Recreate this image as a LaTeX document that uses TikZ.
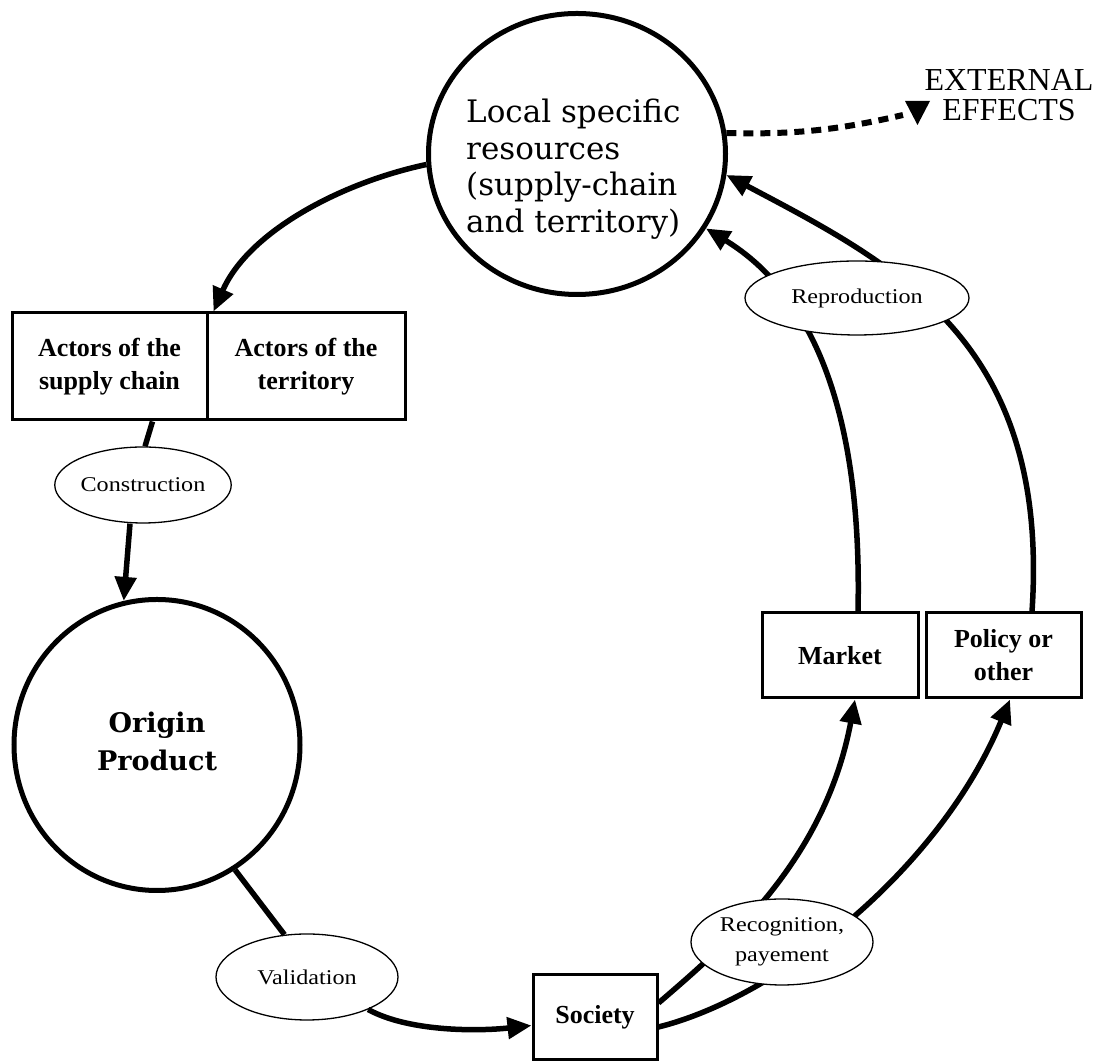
\documentclass[tikz,border=0pt]{standalone}
\usepackage{fontspec}
\setmainfont{Liberation Serif}
\newfontfamily\widerm[FakeStretch=1.15]{Liberation Serif}
\newfontfamily\bookserif{DejaVu Serif}
\usetikzlibrary{arrows.meta,shapes.geometric}

\begin{document}
\begin{tikzpicture}[x=1pt,y=1pt,
  bigring/.style={draw,ellipse,line width=5pt,inner sep=0pt},
  actorbox/.style={draw,rectangle,line width=3pt,inner sep=0pt,align=center,
    font=\bfseries\fontsize{26}{33}\selectfont},
  stage/.style={draw,ellipse,line width=1.3pt,fill=white,inner sep=0pt,align=center,
    font=\widerm\fontsize{21}{30}\selectfont},
  link/.style={line width=5.5pt},
  flow/.style={line width=5.5pt,-{Triangle[length=24pt,width=21pt]}},
  spill/.style={line width=6pt,dash pattern=on 10pt off 7pt}
]
\useasboundingbox (0,0) rectangle (1104,1062);

% the two resource poles
\node[bigring,minimum width=297pt,minimum height=281pt] (res) at (577,908) {};
\node[anchor=west,inner sep=0pt,align=left,font=\bookserif\fontsize{31}{36.5}\selectfont]
  (restext) at (466,893) {Local specific\\resources\\(supply-chain\\and territory)};
\node[bigring,minimum width=286pt,minimum height=291pt] (origin) at (157,317) {};
\node[inner sep=0pt,align=center,font=\bookserif\bfseries\fontsize{27}{38}\selectfont]
  (origintext) at (157,321) {Origin\\Product};

% actors, market, society
\node[actorbox,minimum width=195pt,minimum height=107pt] (actorsL) at (109.5,695.5) {Actors of the\\supply chain};
\node[actorbox,minimum width=198pt,minimum height=107pt] (actorsR) at (306,695.5) {Actors of the\\territory};
\node[actorbox,minimum width=156pt,minimum height=85pt] (market) at (840,406.5) {Market};
\node[actorbox,minimum width=155pt,minimum height=85pt] (policy) at (1003.5,406.5) {Policy or\\other};
\node[actorbox,minimum width=124pt,minimum height=85pt] (society) at (595,44.5) {Society};

% process stages on the left
\node[stage,minimum width=152pt,minimum height=76pt] (constr) at (143,577) {Construction};
\node[stage,minimum width=182pt,minimum height=86pt] (valid) at (307,85) {Validation};

% external effects
\node[inner sep=0pt,align=center,font=\fontsize{32}{30}\selectfont] (ext) at (1009,967) {EXTERNAL\\EFFECTS};
\coordinate (extend) at (903,947);
\fill (905,961) -- (930,961) -- (917.5,937) -- cycle;
\draw[spill] (res.8) .. controls +(70,-2) and +(-60,-14) .. (extend);

% the cycle
\draw[flow] (res.184) .. controls +(-85,-18) and +(35,80) .. ([xshift=8pt]actorsR.north west);
\draw[link] ([xshift=43pt]actorsL.south) -- ([xshift=2pt]constr.north);
\draw[flow] ([xshift=-13pt]constr.south) -- (origin.103);
\draw[link] (origin.-58) -- (valid.118);
\draw[flow] (valid.-28) .. controls +(40,-22) and +(-55,-6) .. ([yshift=-8pt]society.west);
\draw[flow] ([yshift=14.5pt]society.east) .. controls +(70,60) and +(-30,-160) .. ([xshift=15pt]market.south);
\draw[flow] ([yshift=-9.5pt]society.east) .. controls +(120,30) and +(-70,-170) .. ([xshift=6.5pt]policy.south);
\draw[flow] ([xshift=18pt]market.north) .. controls +(5,230) and +(90,-55) .. (res.-30);
\draw[flow] ([xshift=28.5pt]policy.north) .. controls +(18,270) and +(170,-90) .. (res.-8);

% stages laid over the return arcs
\node[stage,minimum width=224pt,minimum height=74pt] (repro) at (857,764) {Reproduction};
\node[stage,minimum width=182pt,minimum height=86pt] (recog) at (782,120) {Recognition,\\payement};
\end{tikzpicture}
\end{document}
